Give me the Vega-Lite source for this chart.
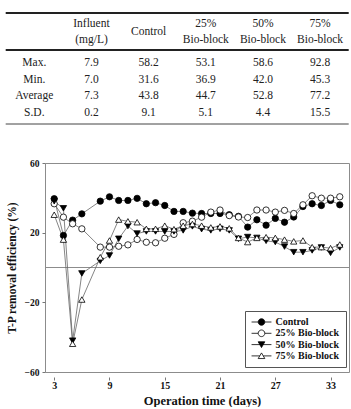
{
  "$schema": "https://vega.github.io/schema/vega-lite/v6.json",
  "padding": {"left": 4, "top": 0, "right": 0, "bottom": 0},
  "background": "white",
  "spacing": 27,
  "config": {"view": {"stroke": null}, "font": "Liberation Serif"},
  "datasets": {
    "head": [
      {"col": 1, "lines": 2, "text": "Influent\n(mg/L)"},
      {"col": 2, "lines": 1, "text": "Control"},
      {"col": 3, "lines": 2, "text": "25%\nBio-block"},
      {"col": 4, "lines": 2, "text": "50%\nBio-block"},
      {"col": 5, "lines": 2, "text": "75%\nBio-block"}
    ],
    "body": [
      {"row": 1, "col": 0, "text": "Max."}, {"row": 1, "col": 1, "text": "7.9"}, {"row": 1, "col": 2, "text": "58.2"}, {"row": 1, "col": 3, "text": "53.1"}, {"row": 1, "col": 4, "text": "58.6"}, {"row": 1, "col": 5, "text": "92.8"},
      {"row": 2, "col": 0, "text": "Min."}, {"row": 2, "col": 1, "text": "7.0"}, {"row": 2, "col": 2, "text": "31.6"}, {"row": 2, "col": 3, "text": "36.9"}, {"row": 2, "col": 4, "text": "42.0"}, {"row": 2, "col": 5, "text": "45.3"},
      {"row": 3, "col": 0, "text": "Average"}, {"row": 3, "col": 1, "text": "7.3"}, {"row": 3, "col": 2, "text": "43.8"}, {"row": 3, "col": 3, "text": "44.7"}, {"row": 3, "col": 4, "text": "52.8"}, {"row": 3, "col": 5, "text": "77.2"},
      {"row": 4, "col": 0, "text": "S.D."}, {"row": 4, "col": 1, "text": "0.2"}, {"row": 4, "col": 2, "text": "9.1"}, {"row": 4, "col": 3, "text": "5.1"}, {"row": 4, "col": 4, "text": "4.4"}, {"row": 4, "col": 5, "text": "15.5"}
    ],
    "series": [
      {"day": 3, "series": "Control", "value": 39.5}, {"day": 4, "series": "Control", "value": 18.4}, {"day": 5, "series": "Control", "value": 27.2}, {"day": 6, "series": "Control", "value": 30.8}, {"day": 8, "series": "Control", "value": 38.1}, {"day": 9, "series": "Control", "value": 40.6}, {"day": 10, "series": "Control", "value": 38.5}, {"day": 11, "series": "Control", "value": 38.5}, {"day": 12, "series": "Control", "value": 39.7}, {"day": 13, "series": "Control", "value": 36.6}, {"day": 14, "series": "Control", "value": 37.2}, {"day": 15, "series": "Control", "value": 35.6}, {"day": 16, "series": "Control", "value": 32.2}, {"day": 17, "series": "Control", "value": 32.2}, {"day": 18, "series": "Control", "value": 31.2}, {"day": 19, "series": "Control", "value": 31}, {"day": 20, "series": "Control", "value": 31}, {"day": 21, "series": "Control", "value": 31}, {"day": 22, "series": "Control", "value": 30.3}, {"day": 23, "series": "Control", "value": 29.4}, {"day": 24, "series": "Control", "value": 23.2}, {"day": 25, "series": "Control", "value": 27.4}, {"day": 26, "series": "Control", "value": 24.3}, {"day": 27, "series": "Control", "value": 28.2}, {"day": 28, "series": "Control", "value": 26}, {"day": 29, "series": "Control", "value": 29}, {"day": 30, "series": "Control", "value": 35}, {"day": 31, "series": "Control", "value": 36.6}, {"day": 32, "series": "Control", "value": 35.6}, {"day": 33, "series": "Control", "value": 38.5}, {"day": 34, "series": "Control", "value": 36},
      {"day": 3, "series": "25% Bio-block", "value": 36.6}, {"day": 4, "series": "25% Bio-block", "value": 28.9}, {"day": 5, "series": "25% Bio-block", "value": 25.1}, {"day": 6, "series": "25% Bio-block", "value": 22.2}, {"day": 8, "series": "25% Bio-block", "value": 11.7}, {"day": 9, "series": "25% Bio-block", "value": 11.7}, {"day": 10, "series": "25% Bio-block", "value": 12.2}, {"day": 11, "series": "25% Bio-block", "value": 13}, {"day": 12, "series": "25% Bio-block", "value": 16.1}, {"day": 13, "series": "25% Bio-block", "value": 14.5}, {"day": 14, "series": "25% Bio-block", "value": 14.2}, {"day": 15, "series": "25% Bio-block", "value": 16.8}, {"day": 16, "series": "25% Bio-block", "value": 19}, {"day": 17, "series": "25% Bio-block", "value": 25.7}, {"day": 18, "series": "25% Bio-block", "value": 26.6}, {"day": 19, "series": "25% Bio-block", "value": 28.9}, {"day": 20, "series": "25% Bio-block", "value": 31.8}, {"day": 21, "series": "25% Bio-block", "value": 33}, {"day": 22, "series": "25% Bio-block", "value": 29.8}, {"day": 23, "series": "25% Bio-block", "value": 29}, {"day": 24, "series": "25% Bio-block", "value": 28.7}, {"day": 25, "series": "25% Bio-block", "value": 33}, {"day": 26, "series": "25% Bio-block", "value": 33}, {"day": 27, "series": "25% Bio-block", "value": 31.8}, {"day": 28, "series": "25% Bio-block", "value": 32.8}, {"day": 29, "series": "25% Bio-block", "value": 31}, {"day": 30, "series": "25% Bio-block", "value": 36}, {"day": 31, "series": "25% Bio-block", "value": 41.2}, {"day": 32, "series": "25% Bio-block", "value": 39.8}, {"day": 33, "series": "25% Bio-block", "value": 39.8}, {"day": 34, "series": "25% Bio-block", "value": 40.6},
      {"day": 3, "series": "50% Bio-block", "value": 38}, {"day": 4, "series": "50% Bio-block", "value": 34}, {"day": 5, "series": "50% Bio-block", "value": -42}, {"day": 6, "series": "50% Bio-block", "value": -3.4}, {"day": 8, "series": "50% Bio-block", "value": 3.8}, {"day": 9, "series": "50% Bio-block", "value": 6.9}, {"day": 10, "series": "50% Bio-block", "value": 16.5}, {"day": 11, "series": "50% Bio-block", "value": 23.8}, {"day": 12, "series": "50% Bio-block", "value": 19.5}, {"day": 13, "series": "50% Bio-block", "value": 20.7}, {"day": 14, "series": "50% Bio-block", "value": 20.7}, {"day": 15, "series": "50% Bio-block", "value": 20.7}, {"day": 16, "series": "50% Bio-block", "value": 20.7}, {"day": 17, "series": "50% Bio-block", "value": 21.3}, {"day": 18, "series": "50% Bio-block", "value": 23.6}, {"day": 19, "series": "50% Bio-block", "value": 22}, {"day": 20, "series": "50% Bio-block", "value": 21.3}, {"day": 21, "series": "50% Bio-block", "value": 22.2}, {"day": 22, "series": "50% Bio-block", "value": 21.3}, {"day": 23, "series": "50% Bio-block", "value": 16.5}, {"day": 24, "series": "50% Bio-block", "value": 17.5}, {"day": 25, "series": "50% Bio-block", "value": 17}, {"day": 26, "series": "50% Bio-block", "value": 15.3}, {"day": 27, "series": "50% Bio-block", "value": 14.6}, {"day": 28, "series": "50% Bio-block", "value": 12}, {"day": 29, "series": "50% Bio-block", "value": 8.8}, {"day": 30, "series": "50% Bio-block", "value": 8.8}, {"day": 31, "series": "50% Bio-block", "value": 9.8}, {"day": 32, "series": "50% Bio-block", "value": 11.5}, {"day": 33, "series": "50% Bio-block", "value": 8.4}, {"day": 34, "series": "50% Bio-block", "value": 11.5},
      {"day": 3, "series": "75% Bio-block", "value": 30.3}, {"day": 4, "series": "75% Bio-block", "value": 16}, {"day": 5, "series": "75% Bio-block", "value": -43.8}, {"day": 6, "series": "75% Bio-block", "value": -18.4}, {"day": 8, "series": "75% Bio-block", "value": 5.9}, {"day": 9, "series": "75% Bio-block", "value": 15.5}, {"day": 10, "series": "75% Bio-block", "value": 27.5}, {"day": 11, "series": "75% Bio-block", "value": 26.5}, {"day": 12, "series": "75% Bio-block", "value": 26}, {"day": 13, "series": "75% Bio-block", "value": 22.2}, {"day": 14, "series": "75% Bio-block", "value": 22.2}, {"day": 15, "series": "75% Bio-block", "value": 24}, {"day": 16, "series": "75% Bio-block", "value": 22}, {"day": 17, "series": "75% Bio-block", "value": 24}, {"day": 18, "series": "75% Bio-block", "value": 25}, {"day": 19, "series": "75% Bio-block", "value": 24}, {"day": 20, "series": "75% Bio-block", "value": 23}, {"day": 21, "series": "75% Bio-block", "value": 23.6}, {"day": 22, "series": "75% Bio-block", "value": 22.5}, {"day": 23, "series": "75% Bio-block", "value": 17}, {"day": 24, "series": "75% Bio-block", "value": 14.6}, {"day": 25, "series": "75% Bio-block", "value": 17}, {"day": 26, "series": "75% Bio-block", "value": 17.4}, {"day": 27, "series": "75% Bio-block", "value": 17}, {"day": 28, "series": "75% Bio-block", "value": 16}, {"day": 29, "series": "75% Bio-block", "value": 15}, {"day": 30, "series": "75% Bio-block", "value": 15.5}, {"day": 31, "series": "75% Bio-block", "value": 11.7}, {"day": 32, "series": "75% Bio-block", "value": 11.7}, {"day": 33, "series": "75% Bio-block", "value": 11.1}, {"day": 34, "series": "75% Bio-block", "value": 13.2}
    ]
  },
  "vconcat": [
    {
      "width": 304,
      "height": 130,
      "layer": [
        {
          "data": {"values": [{}]},
          "mark": {"type": "rule", "color": "#222", "strokeWidth": 2},
          "encoding": {
            "x": {"datum": -0.5, "type": "quantitative", "scale": {"domain": [-0.5, 5.5], "range": [-39.3, 303.7]}, "axis": null},
            "x2": {"datum": 5.5},
            "y": {"datum": -2, "type": "quantitative", "scale": {"domain": [1, 4], "range": [63, 113]}, "axis": null}
          }
        },
        {
          "data": {"values": [{}]},
          "mark": {"type": "rule", "color": "#222", "strokeWidth": 2},
          "encoding": {
            "x": {"datum": -0.5, "type": "quantitative", "scale": {"domain": [-0.5, 5.5], "range": [-39.3, 303.7]}, "axis": null},
            "x2": {"datum": 5.5},
            "y": {"datum": 0.22, "type": "quantitative", "scale": {"domain": [1, 4], "range": [63, 113]}, "axis": null}
          }
        },
        {
          "data": {"values": [{}]},
          "mark": {"type": "rule", "color": "#444", "strokeWidth": 1},
          "encoding": {
            "x": {"datum": -0.5, "type": "quantitative", "scale": {"domain": [-0.5, 5.5], "range": [-39.3, 303.7]}, "axis": null},
            "x2": {"datum": 5.5},
            "y": {"datum": 4.66, "type": "quantitative", "scale": {"domain": [1, 4], "range": [63, 113]}, "axis": null}
          }
        },
        {
          "data": {"name": "head"},
          "transform": [{"filter": "datum.lines == 2"}],
          "mark": {"type": "text", "font": "Liberation Serif", "fontSize": 11.5, "color": "#222", "lineBreak": "\n", "lineHeight": 16, "baseline": "middle", "dy": -22.3},
          "encoding": {
            "x": {"field": "col", "type": "quantitative", "scale": {"domain": [-0.5, 5.5], "range": [-39.3, 303.7]}, "axis": null},
            "y": {"datum": 0, "type": "quantitative", "scale": {"domain": [1, 4], "range": [63, 113]}, "axis": null},
            "text": {"field": "text"}
          }
        },
        {
          "data": {"name": "head"},
          "transform": [{"filter": "datum.lines == 1"}],
          "mark": {"type": "text", "font": "Liberation Serif", "fontSize": 11.5, "color": "#222", "baseline": "middle", "dy": -14.3},
          "encoding": {
            "x": {"field": "col", "type": "quantitative", "scale": {"domain": [-0.5, 5.5], "range": [-39.3, 303.7]}, "axis": null},
            "y": {"datum": 0, "type": "quantitative", "scale": {"domain": [1, 4], "range": [63, 113]}, "axis": null},
            "text": {"field": "text"}
          }
        },
        {
          "data": {"name": "body"},
          "mark": {"type": "text", "font": "Liberation Serif", "fontSize": 11.5, "color": "#222", "baseline": "middle"},
          "encoding": {
            "x": {"field": "col", "type": "quantitative", "scale": {"domain": [-0.5, 5.5], "range": [-39.3, 303.7]}, "axis": null},
            "y": {"field": "row", "type": "quantitative", "scale": {"domain": [1, 4], "range": [63, 113]}, "axis": null},
            "text": {"field": "text"}
          }
        }
      ]
    },
    {
      "width": 304,
      "height": 209,
      "view": {"stroke": "#8c8c8c", "strokeWidth": 1},
      "resolve": {"scale": {"shape": "independent", "fill": "independent", "stroke": "independent"}},
      "layer": [
        {
          "data": {"values": [{}]},
          "mark": {"type": "rule", "color": "#8c8c8c", "strokeWidth": 1},
          "encoding": {"y": {"datum": 0, "type": "quantitative", "scale": {"domain": [-60, 60], "nice": false}}}
        },
        {
          "data": {"name": "series"},
          "mark": {"type": "line", "color": "#666", "strokeWidth": 0.8},
          "encoding": {
            "x": {"field": "day", "type": "quantitative", "scale": {"domain": [2, 35], "nice": false},
              "axis": {"title": "Operation time (days)", "values": [3, 6, 9, 12, 15, 18, 21, 24, 27, 30, 33], "grid": false, "domain": false, "offset": 5, "tickSize": 3, "tickColor": "#777", "labelFont": "Liberation Serif", "labelFontWeight": "bold", "labelFontSize": 10, "labelColor": "#111", "labelPadding": 0, "titleFont": "Liberation Serif", "titleFontWeight": "bold", "titleFontSize": 12.5, "titleColor": "#111", "titlePadding": 4, "titleX": 157}},
            "y": {"field": "value", "type": "quantitative", "scale": {"domain": [-60, 60], "nice": false},
              "axis": {"title": "T-P removal efficiency (%)", "values": [-60, -40, -20, 0, 20, 40, 60], "grid": false, "domain": false, "tickSize": 3, "tickColor": "#777", "labelFont": "Liberation Serif", "labelFontWeight": "bold", "labelFontSize": 9.5, "labelColor": "#111", "labelPadding": 3, "titleFont": "Liberation Serif", "titleFontWeight": "bold", "titleFontSize": 11.5, "titleColor": "#111", "titlePadding": 7}},
            "detail": {"field": "series"}
          }
        },
        {
          "data": {"name": "series"},
          "mark": {"type": "point", "filled": true, "stroke": "black", "strokeWidth": 0.8, "size": 40, "opacity": 1},
          "encoding": {
            "x": {"field": "day", "type": "quantitative"},
            "y": {"field": "value", "type": "quantitative"},
            "shape": {"field": "series", "type": "nominal", "scale": {"domain": ["Control", "25% Bio-block", "50% Bio-block", "75% Bio-block"], "range": ["circle", "circle", "triangle-down", "triangle-up"]}, "legend": null},
            "fill": {"field": "series", "type": "nominal", "scale": {"domain": ["Control", "25% Bio-block", "50% Bio-block", "75% Bio-block"], "range": ["black", "white", "black", "white"]}, "legend": null}
          }
        },
        {
          "data": {"name": "series"},
          "transform": [{"filter": "datum.day > 1000"}],
          "mark": {"type": "point", "filled": true, "strokeWidth": 0.8, "size": 44, "opacity": 1},
          "encoding": {
            "shape": {"field": "series", "type": "nominal",
              "scale": {"domain": ["Control", "25% Bio-block", "50% Bio-block", "75% Bio-block"], "range": ["M-3,0L-1,0M1,0L3,0M-1,0A1,1,0,1,1,1,0A1,1,0,1,1,-1,0Z", "M-3,0L-1,0M1,0L3,0M-1,0A1,1,0,1,1,1,0A1,1,0,1,1,-1,0Z", "M-3,0L3,0M-1,-0.85L1,-0.85L0,0.9Z", "M-3,0L-0.53,0M0.53,0L3,0M0,-0.9L1,0.8L-1,0.8Z"]},
              "legend": {"orient": "none", "legendX": 200, "legendY": 148, "title": null, "strokeColor": "#555", "fillColor": "white", "padding": 6, "symbolSize": 44, "symbolStrokeWidth": 0.8, "symbolOffset": 5.5, "labelOffset": 9, "rowPadding": 1.3, "labelFont": "Liberation Serif", "labelFontWeight": "bold", "labelFontSize": 10, "labelColor": "#111"}},
            "fill": {"field": "series", "type": "nominal",
              "scale": {"domain": ["Control", "25% Bio-block", "50% Bio-block", "75% Bio-block"], "range": ["black", "white", "black", "white"]},
              "legend": {"orient": "none", "legendX": 200, "legendY": 148, "title": null, "strokeColor": "#555", "fillColor": "white", "padding": 6, "symbolSize": 44, "symbolStrokeWidth": 0.8, "symbolOffset": 5.5, "labelOffset": 9, "rowPadding": 1.3, "labelFont": "Liberation Serif", "labelFontWeight": "bold", "labelFontSize": 10, "labelColor": "#111"}},
            "stroke": {"field": "series", "type": "nominal",
              "scale": {"domain": ["Control", "25% Bio-block", "50% Bio-block", "75% Bio-block"], "range": ["black", "black", "black", "black"]},
              "legend": {"orient": "none", "legendX": 200, "legendY": 148, "title": null, "strokeColor": "#555", "fillColor": "white", "padding": 6, "symbolSize": 44, "symbolStrokeWidth": 0.8, "symbolOffset": 5.5, "labelOffset": 9, "rowPadding": 1.3, "labelFont": "Liberation Serif", "labelFontWeight": "bold", "labelFontSize": 10, "labelColor": "#111"}}
          }
        }
      ]
    }
  ]
}
